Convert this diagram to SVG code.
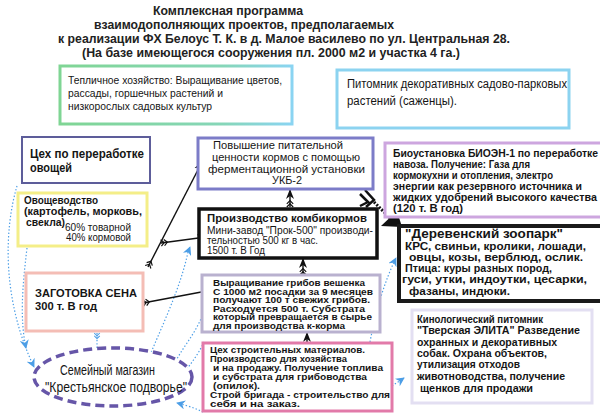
<svg xmlns="http://www.w3.org/2000/svg" width="600" height="417" viewBox="0 0 600 417">
<defs>
<linearGradient id="gGreen" x1="0" y1="0" x2="1" y2="0">
<stop offset="0" stop-color="#7fd594"/><stop offset="0.7" stop-color="#86d6b8"/><stop offset="1" stop-color="#8ad4f2"/>
</linearGradient>
<marker id="ah" viewBox="0 0 10 10" refX="9" refY="5" markerWidth="10" markerHeight="10" markerUnits="userSpaceOnUse" orient="auto">
<path d="M0,1 L10,5 L0,9 L3,5 Z" fill="#111"/>
</marker>
<marker id="tail" viewBox="0 0 10 10" refX="1" refY="5" markerWidth="8" markerHeight="8" markerUnits="userSpaceOnUse" orient="auto">
<path d="M1,1 L5,5 L1,9 M5,1 L9,5 L5,9" fill="none" stroke="#111" stroke-width="1.5"/>
</marker>
<marker id="bh" viewBox="0 0 10 10" refX="9" refY="5" markerWidth="9" markerHeight="9" markerUnits="userSpaceOnUse" orient="auto">
<path d="M0,0 L10,5 L0,10 L3,5 Z" fill="#4c9ee6"/>
</marker>
<marker id="btail" viewBox="0 0 10 10" refX="1" refY="5" markerWidth="7" markerHeight="7" markerUnits="userSpaceOnUse" orient="auto">
<path d="M1,1 L5,5 L1,9 M5,1 L9,5 L5,9" fill="none" stroke="#4c9ee6" stroke-width="1.5"/>
</marker>
</defs>
<style>
text{font-family:"Liberation Sans",Arial,sans-serif;fill:#151515}
.t{font-size:12.5px;font-weight:bold;fill:#222}
.r{font-size:11.5px}
.b{font-size:10.5px;font-weight:bold}
.s{font-size:9px;font-weight:bold}
.box{fill:#fff}
.bl{fill:none;stroke:#111;stroke-width:1.4}
.dot{fill:none;stroke:#4c9ee6;stroke-width:1.2;stroke-dasharray:1.4 2}
</style>
<rect width="600" height="417" fill="#fff"/>

<g id="title">
<text class="t" x="153" y="15" textLength="150" lengthAdjust="spacingAndGlyphs">Комплексная программа</text>
<text class="t" x="94" y="29" textLength="300" lengthAdjust="spacingAndGlyphs">взаимодополняющих проектов, предполагаемых</text>
<text class="t" x="58" y="43" textLength="452" lengthAdjust="spacingAndGlyphs">к реализации ФХ Белоус Т. К. в д. Малое василево по ул. Центральная 28.</text>
<text class="t" x="82" y="57" textLength="378" lengthAdjust="spacingAndGlyphs">(На базе имеющегося сооружения пл. 2000 м2 и участка 4 га.)</text>
</g>

<g id="connectors">
<!-- blue dotted -->
<path class="dot" d="M17,186 C4,230 2,300 34,367" marker-end="url(#bh)"/>
<path class="dot" d="M27,248 C22,290 20,320 26,348" marker-end="url(#bh)"/>
<path class="dot" d="M97,333 L97,358" marker-start="url(#btail)" marker-end="url(#bh)"/>
<path class="dot" d="M188,252 C180,290 160,330 148,360" marker-end="url(#bh)"/>
<path class="dot" d="M188,252 L190,247" marker-end="url(#bh)"/>
<path class="dot" d="M202,316 C195,335 180,350 173,367" marker-end="url(#bh)"/>
<path class="dot" d="M204,342 C198,355 190,365 182,375" marker-end="url(#bh)"/>
<path class="dot" d="M203,412 C195,408 185,405 177,403" marker-end="url(#bh)"/>
<path class="dot" d="M370,342 C376,310 385,280 396,258" marker-end="url(#bh)"/>
<path class="dot" d="M392,386 L404,378" marker-end="url(#bh)"/>
<!-- black arrows -->
<path class="bl" d="M148,267 L202,162" marker-start="url(#tail)" marker-end="url(#ah)"/>
<path class="bl" d="M161,243 L206,237" marker-start="url(#tail)" marker-end="url(#ah)"/>
<path class="bl" d="M143,303 L212,290" marker-start="url(#tail)" marker-end="url(#ah)"/>
<path class="bl" d="M290,207 L290,190" marker-start="url(#tail)" marker-end="url(#ah)"/>
<path class="bl" d="M303,275 L303,259" marker-start="url(#tail)" marker-end="url(#ah)"/>
<path class="bl" d="M307,350 L307,333" marker-start="url(#tail)" marker-end="url(#ah)"/>
<!-- thick arrow Повышение -> зоопарк -->
<path d="M360,194 L368,202 L360,206 M365,190 L374,200 L366,207" fill="none" stroke="#111" stroke-width="2.5"/>
<path d="M374,202 L392,220" fill="none" stroke="#111" stroke-width="3" stroke-dasharray="2 1.5"/>
<path d="M381,226 L397,211 L402,227 Z" fill="#111"/>
</g>

<g id="n-teplica">
<rect class="box" x="60" y="66" width="232" height="58" stroke="url(#gGreen)" stroke-width="3"/>
<text class="r" x="68" y="84" font-size="11" textLength="214" lengthAdjust="spacingAndGlyphs">Тепличное хозяйство: Выращивание цветов,</text>
<text class="r" x="68" y="97" textLength="155" lengthAdjust="spacingAndGlyphs">рассады, горшечных растений и</text>
<text class="r" x="68" y="110" textLength="144" lengthAdjust="spacingAndGlyphs">низкорослых садовых культур</text>
</g>

<g id="n-pitomnik">
<rect class="box" x="337" y="70" width="232" height="58" stroke="#8cd3f0" stroke-width="3"/>
<text x="347" y="88" font-size="12" textLength="220" lengthAdjust="spacingAndGlyphs">Питомник декоративных садово-парковых</text>
<text x="347" y="105" font-size="12.5" textLength="110" lengthAdjust="spacingAndGlyphs">растений (саженцы).</text>
</g>

<g id="n-ceh-ovoshchi">
<rect class="box" x="22" y="137" width="128" height="46" stroke="#5d5d9a" stroke-width="2"/>
<text x="30" y="158" font-size="12.5" font-weight="bold" textLength="114" lengthAdjust="spacingAndGlyphs">Цех по переработке</text>
<text x="30" y="171.5" font-size="12.5" font-weight="bold" textLength="42" lengthAdjust="spacingAndGlyphs">овощей</text>
</g>

<g id="n-ovoshchevodstvo">
<rect class="box" x="18" y="193" width="129" height="53" stroke="#f4ee88" stroke-width="3"/>
<text class="b" x="24" y="204" textLength="74" lengthAdjust="spacingAndGlyphs">Овощеводство</text>
<text class="b" x="24" y="215" textLength="118" lengthAdjust="spacingAndGlyphs">(картофель, морковь,</text>
<text class="b" x="26" y="226" textLength="39" lengthAdjust="spacingAndGlyphs">свекла)</text>
<text x="65" y="231" font-size="10" textLength="66" lengthAdjust="spacingAndGlyphs">60% товарной</text>
<text x="66" y="241" font-size="10" textLength="65" lengthAdjust="spacingAndGlyphs">40% кормовой</text>
</g>

<g id="n-povyshenie">
<rect class="box" x="198" y="138" width="175" height="51" stroke="#7c7cc8" stroke-width="3"/>
<text x="213" y="149" font-size="11.5" textLength="130" lengthAdjust="spacingAndGlyphs">Повышение питательной</text>
<text x="212" y="161" font-size="11.5" textLength="148" lengthAdjust="spacingAndGlyphs">ценности кормов с помощью</text>
<text x="208" y="173" font-size="11.5" textLength="157" lengthAdjust="spacingAndGlyphs">ферментационной установки</text>
<text x="272" y="184" font-size="11.5" textLength="30" lengthAdjust="spacingAndGlyphs">УКБ-2</text>
</g>

<g id="n-proizvodstvo">
<rect class="box" x="199" y="209" width="178" height="49" stroke="#111" stroke-width="3.5"/>
<text x="207" y="222" font-size="11" font-weight="bold" textLength="160" lengthAdjust="spacingAndGlyphs">Производство комбикормов</text>
<text x="207" y="234" font-size="10" textLength="166" lengthAdjust="spacingAndGlyphs">Мини-завод "Прок-500" производи-</text>
<text x="207" y="244" font-size="10" textLength="111" lengthAdjust="spacingAndGlyphs">тельностью 500 кг в час.</text>
<text x="207" y="254" font-size="10" textLength="58" lengthAdjust="spacingAndGlyphs">1500 т. В Год</text>
</g>

<g id="n-bio">
<rect class="box" x="385" y="143" width="218" height="74" stroke="#cda6df" stroke-width="3"/>
<text class="b" x="393" y="157" textLength="205" lengthAdjust="spacingAndGlyphs">Биоустановка БИОЭН-1 по переработке</text>
<text class="b" x="393" y="168" textLength="137" lengthAdjust="spacingAndGlyphs">навоза. Получение: Газа для</text>
<text class="b" x="393" y="179" textLength="160" lengthAdjust="spacingAndGlyphs">кормокухни и отопления, электро</text>
<text class="b" x="393" y="190" textLength="189" lengthAdjust="spacingAndGlyphs">энергии как резервного источника и</text>
<text class="b" x="393" y="201" textLength="204" lengthAdjust="spacingAndGlyphs">жидких удобрений  высокого качества</text>
<text class="b" x="393" y="212" textLength="70" lengthAdjust="spacingAndGlyphs">(120 т. В год)</text>
</g>

<g id="n-zoopark">
<rect class="box" x="399" y="226" width="205" height="75" stroke="#1a1a1a" stroke-width="4"/>
<text x="405" y="238" font-size="13" font-weight="bold" textLength="158" lengthAdjust="spacingAndGlyphs">"Деревенский зоопарк"</text>
<text x="405" y="250" font-size="11" font-weight="bold" textLength="181" lengthAdjust="spacingAndGlyphs">КРС, свиньи, кролики, лошади,</text>
<text x="409" y="261" font-size="11" font-weight="bold" textLength="174" lengthAdjust="spacingAndGlyphs">овцы, козы, верблюд,  ослик.</text>
<text x="405" y="272" font-size="11" font-weight="bold" textLength="147" lengthAdjust="spacingAndGlyphs">Птица: куры разных пород,</text>
<text x="402" y="283" font-size="11" font-weight="bold" textLength="185" lengthAdjust="spacingAndGlyphs">гуси, утки, индоутки, цесарки,</text>
<text x="409" y="295" font-size="11" font-weight="bold" textLength="101" lengthAdjust="spacingAndGlyphs">фазаны, индюки.</text>
</g>

<g id="n-griby">
<rect class="box" x="202" y="275" width="178" height="57" stroke="#b9b1cf" stroke-width="3"/>
<text class="s" x="213" y="286" textLength="152" lengthAdjust="spacingAndGlyphs">Выращивание грибов вешенка</text>
<text class="s" x="213" y="294.5" textLength="160" lengthAdjust="spacingAndGlyphs">С 1000 м2 посадки за 9 месяцев</text>
<text class="s" x="213" y="303" textLength="157" lengthAdjust="spacingAndGlyphs">получают 100 т свежих грибов.</text>
<text class="s" x="213" y="311.5" textLength="152" lengthAdjust="spacingAndGlyphs">Расходуется 500 т. Субстрата</text>
<text class="s" x="213" y="320" textLength="159" lengthAdjust="spacingAndGlyphs">который превращается в сырье</text>
<text class="s" x="213" y="328.5" textLength="132" lengthAdjust="spacingAndGlyphs">для производства к-корма</text>
</g>

<g id="n-stroy">
<rect class="box" x="203" y="343" width="189" height="68" stroke="#e27aa9" stroke-width="3"/>
<text class="s" x="210" y="353" textLength="155" lengthAdjust="spacingAndGlyphs">Цех строительных материалов.</text>
<text class="s" x="210" y="362" textLength="137" lengthAdjust="spacingAndGlyphs">Производство для хозяйства</text>
<text class="s" x="213" y="371" textLength="170" lengthAdjust="spacingAndGlyphs">и на продажу. Получение топлива</text>
<text class="s" x="213" y="380" textLength="154" lengthAdjust="spacingAndGlyphs">и субстрата для грибоводства</text>
<text class="s" x="213" y="389" textLength="47" lengthAdjust="spacingAndGlyphs">(опилок).</text>
<text class="s" x="210" y="398" textLength="180" lengthAdjust="spacingAndGlyphs">Строй бригада - строительство для</text>
<text class="s" x="210" y="407" textLength="90" lengthAdjust="spacingAndGlyphs">себя и на заказ.</text>
</g>

<g id="n-kinolog">
<rect class="box" x="412" y="310" width="180" height="93" stroke="#e3dff2" stroke-width="3"/>
<text class="b" x="417" y="323" textLength="126" lengthAdjust="spacingAndGlyphs">Кинологический питомник</text>
<text class="b" x="417" y="334" textLength="163" lengthAdjust="spacingAndGlyphs">"Тверская ЭЛИТА" Разведение</text>
<text class="b" x="417" y="346" textLength="140" lengthAdjust="spacingAndGlyphs">охранных и декоративных</text>
<text class="b" x="417" y="357" textLength="130" lengthAdjust="spacingAndGlyphs">собак. Охрана объектов,</text>
<text class="b" x="417" y="368" textLength="103" lengthAdjust="spacingAndGlyphs">утилизация отходов</text>
<text class="b" x="417" y="380" textLength="148" lengthAdjust="spacingAndGlyphs">животноводства, получение</text>
<text class="b" x="420" y="392" textLength="113" lengthAdjust="spacingAndGlyphs">щенков для продажи</text>
</g>

<g id="n-seno">
<rect class="box" x="26" y="273" width="117" height="58" stroke="#f4bdb5" stroke-width="3"/>
<text x="35" y="297" font-size="11.5" font-weight="bold" textLength="102" lengthAdjust="spacingAndGlyphs">ЗАГОТОВКА СЕНА</text>
<text x="35" y="309.5" font-size="11.5" font-weight="bold" textLength="62" lengthAdjust="spacingAndGlyphs">300 т. В год</text>
</g>

<g id="n-magazin">
<ellipse cx="113" cy="377" rx="79" ry="29" fill="#fff" stroke="#6656a8" stroke-width="3.5" stroke-dasharray="9 5"/>
<text x="60" y="375" font-size="14" textLength="95" lengthAdjust="spacingAndGlyphs">Семейный магазин</text>
<text x="45" y="392" font-size="14" textLength="142" lengthAdjust="spacingAndGlyphs">"Крестьянское подворье"</text>
</g>
</svg>
